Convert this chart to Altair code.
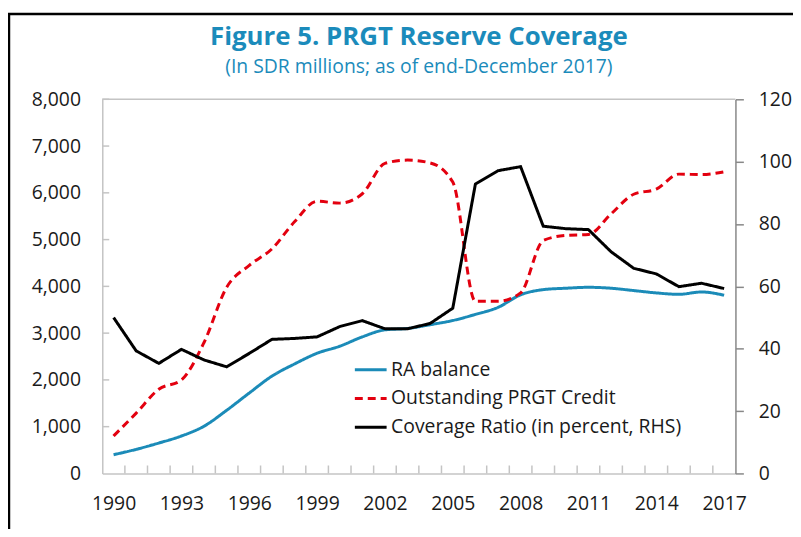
import altair as alt
import pandas as pd

years = list(range(1990, 2018))
ra_balance = [400, 515, 650, 800, 1010, 1350, 1720, 2080, 2340, 2570, 2720, 2920, 3070, 3100,
              3180, 3270, 3400, 3550, 3820, 3930, 3960, 3980, 3960, 3910, 3860, 3830, 3880, 3810]
prgt_credit = [800, 1290, 1800, 2000, 2800, 3980, 4450, 4800, 5380, 5820, 5780, 5980, 6630, 6700,
               6640, 6230, 3680, 3680, 3860, 4980, 5090, 5110, 5550, 5970, 6080, 6400, 6390, 6450]
coverage = [50, 39.3, 35.3, 39.8, 36.4, 34.2, 38.5, 43, 43.3, 43.8, 47.1, 49, 46.4, 46.4,
            48.1, 53, 92.8, 97.1, 98.4, 79.3, 78.5, 78.2, 71.1, 65.8, 64, 59.9, 61, 59.3]

series_names = ["RA balance", "Outstanding PRGT Credit", "Coverage Ratio (in percent, RHS)"]
series_colors = ["#1b8bb8", "#e3000f", "#000000"]
series_dashes = [[1, 0], [8, 5], [1, 0]]

left_ticks = list(range(0, 8001, 1000))
right_ticks = list(range(0, 121, 20))
year_edges = [y - 0.5 for y in years] + [years[-1] + 0.5]

title_text = "Figure 5. PRGT Reserve Coverage"
subtitle_text = "(In SDR millions; as of end-December 2017)"

W, H = 638, 377
FONT = "Open Sans"
FS = 19.5
TEAL = "#1b8bbb"
LIGHT = "#c4c4c4"
DARK = "#888888"

df_left = pd.DataFrame({
    "year": years * 2,
    "value": ra_balance + prgt_credit,
    "series": [series_names[0]] * len(years) + [series_names[1]] * len(years),
})
df_right = pd.DataFrame({"year": years, "value": coverage, "series": series_names[2]})
df_lt = pd.DataFrame({"v": left_ticks[1:]})
df_bt = pd.DataFrame({"hx": year_edges[1:-1]})
one = alt.Data(values=[{"a": 1}])

x_scale = alt.Scale(domain=[year_edges[0], year_edges[-1]], nice=False, zero=False)
x_axis = alt.Axis(
    values=year_edges,
    labelExpr="(datum.value + 0.5 - 1990) % 3 === 0 ? toString(datum.value + 0.5) : ''",
    labelOffset=W / len(years) / 2,
    ticks=False, grid=False, title=None,
    domainColor=LIGHT, domainWidth=1.5,
    labelFont=FONT, labelFontSize=FS, labelColor="#1a1a1a",
    labelPadding=21, labelFlush=False, labelOverlap=False, labelBound=False,
)
X = lambda f: alt.X(f, scale=x_scale, axis=x_axis)

yl_scale = alt.Scale(domain=[0, 8000], nice=False)
yl_axis = alt.Axis(
    values=left_ticks, format=",.0f", ticks=False, grid=False, title=None,
    domainColor=LIGHT, domainWidth=1.5,
    labelFont=FONT, labelFontSize=FS, labelColor="#1a1a1a", labelPadding=22,
)
YL = lambda f: alt.Y(f, scale=yl_scale, axis=yl_axis)

color_enc = alt.Color("series:N", scale=alt.Scale(domain=series_names, range=series_colors),
                      legend=alt.Legend(
                          title=None, orient="none", legendX=253, legendY=255,
                          symbolType="stroke", symbolSize=1024, symbolStrokeWidth=3,
                          labelFont=FONT, labelFontSize=FS, labelColor="#1a1a1a",
                          labelOffset=3, rowPadding=2, padding=0, symbolOffset=0,
                          labelLimit=500,
                      ))
dash_enc = alt.StrokeDash("series:N", scale=alt.Scale(domain=series_names, range=series_dashes),
                          legend=None)

lines_left = alt.Chart(df_left).mark_line(strokeWidth=3, interpolate="monotone").encode(
    x=X("year:Q"), y=YL("value:Q"), color=color_enc, strokeDash=dash_enc,
    order=alt.Order("year:Q"))

tick_left = alt.Chart(df_lt).mark_rule(color=LIGHT, strokeWidth=1.5).encode(
    y=YL("v:Q"), x=alt.value(0), x2=alt.value(7))
tick_bottom = alt.Chart(df_bt).mark_rule(color=LIGHT, strokeWidth=1.5).encode(
    x=X("hx:Q"), y=alt.value(H - 8), y2=alt.value(H))
top_border = alt.Chart(one).mark_rule(color=LIGHT, strokeWidth=1.5).encode(
    x=alt.value(0), x2=alt.value(W), y=alt.value(0))
frame_top = alt.Chart(one).mark_rule(color="#000000", strokeWidth=2.5).encode(
    x=alt.value(-95), x2=alt.value(700), y=alt.value(-86))
frame_left = alt.Chart(one).mark_rule(color="#000000", strokeWidth=2.5).encode(
    x=alt.value(-94), y=alt.value(-87), y2=alt.value(H + 60))

left_group = alt.layer(frame_top, frame_left, top_border, tick_left, tick_bottom, lines_left)

lines_right = alt.Chart(df_right).mark_line(strokeWidth=3).encode(
    x=X("year:Q"),
    y=alt.Y("value:Q", scale=alt.Scale(domain=[0, 120], nice=False),
            axis=alt.Axis(orient="right", values=right_ticks, grid=False, title=None,
                          tickSize=8, tickColor=DARK, tickWidth=1.5,
                          domainColor=DARK, domainWidth=1.5,
                          labelFont=FONT, labelFontSize=FS, labelColor="#1a1a1a",
                          labelPadding=15)),
    color=color_enc, strokeDash=dash_enc)

chart = alt.layer(left_group, lines_right).resolve_scale(y="independent").properties(
    width=W, height=H,
    autosize=alt.AutoSizeParams(type="none"),
    padding={"left": 95, "top": 90, "right": 58, "bottom": 54},
    title=alt.TitleParams(
        text=title_text, subtitle=subtitle_text,
        font=FONT, fontSize=26, fontWeight="bold", color=TEAL,
        subtitleFont=FONT, subtitleFontSize=19.5, subtitleColor=TEAL,
        anchor="middle", offset=-65, subtitlePadding=8,
    ),
).configure_view(stroke=None)

chart.save("out.html", embed_options={"renderer": "svg", "actions": False})
